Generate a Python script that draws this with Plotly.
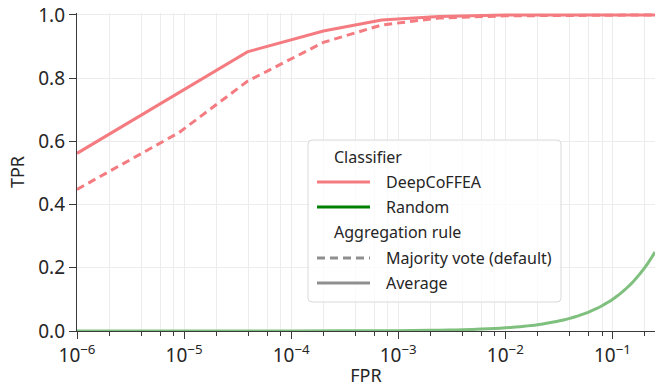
import plotly.graph_objects as go

# ROC curves for DeepCoFFEA under two window-aggregation rules
avg_fpr = [1e-6, 3.9e-5, 2.0e-4, 7.0e-4, 2.4e-3, 1.0e-2, 0.25]
avg_tpr = [0.562, 0.883, 0.949, 0.984, 0.995, 1.0, 1.0]

vote_fpr = [1e-6, 9.0e-6, 3.9e-5, 2.0e-4, 7.0e-4, 2.4e-3, 1.0e-2, 6.0e-2, 0.25]
vote_tpr = [0.448, 0.628, 0.790, 0.913, 0.968, 0.990, 0.997, 1.0, 1.0]

# Random-guess baseline (TPR equals FPR)
rand_fpr = [1e-6, 1e-5, 1e-4, 1e-3, 2e-3, 3e-3, 0.004, 0.006, 0.008, 0.01, 0.0125, 0.015,
            0.0175, 0.02, 0.025, 0.03, 0.035, 0.04, 0.045, 0.05, 0.055, 0.06, 0.07, 0.08,
            0.09, 0.1, 0.11, 0.12, 0.13, 0.14, 0.15, 0.16, 0.17, 0.18, 0.19, 0.2, 0.21,
            0.22, 0.23, 0.24, 0.25]
rand_tpr = [1e-6, 1e-5, 1e-4, 1e-3, 2e-3, 3e-3, 0.004, 0.006, 0.008, 0.01, 0.0125, 0.015,
            0.0175, 0.02, 0.025, 0.03, 0.035, 0.04, 0.045, 0.05, 0.055, 0.06, 0.07, 0.08,
            0.09, 0.1, 0.11, 0.12, 0.13, 0.14, 0.15, 0.16, 0.17, 0.18, 0.19, 0.2, 0.21,
            0.22, 0.23, 0.24, 0.25]

major_ticks = [1e-6, 1e-5, 1e-4, 1e-3, 1e-2, 1e-1]
major_labels = ["10<sup>−6</sup>", "10<sup>−5</sup>", "10<sup>−4</sup>",
                "10<sup>−3</sup>", "10<sup>−2</sup>", "10<sup>−1</sup>"]
minor_ticks = [m * d for d in [1e-6, 1e-5, 1e-4, 1e-3, 1e-2, 1e-1] for m in (2, 4, 6, 8)]
y_ticks = [0.0, 0.2, 0.4, 0.6, 0.8, 1.0]

RED = "#f47b80"
GREEN_FADED = "#7fc07f"
GREEN = "#008000"
GRAY = "#8f8f8f"
TEXT = "#262626"
AXIS = "#3a3a3a"
GRID = "#ececec"
FONT = "Noto Sans"

fig = go.Figure()
fig.add_trace(go.Scatter(x=rand_fpr, y=rand_tpr, mode="lines",
                         line=dict(color=GREEN_FADED, width=3, shape="spline", smoothing=0.6),
                         showlegend=False))
fig.add_trace(go.Scatter(x=vote_fpr, y=vote_tpr, mode="lines",
                         line=dict(color=RED, width=3, dash="8px,5px"), showlegend=False))
fig.add_trace(go.Scatter(x=avg_fpr, y=avg_tpr, mode="lines",
                         line=dict(color=RED, width=3), showlegend=False))

fig.update_xaxes(
    type="log", range=[-6, -0.602], automargin=False,
    tickmode="array", tickvals=major_ticks, ticktext=major_labels,
    ticks="outside", ticklen=7, tickwidth=1.3, tickcolor=AXIS,
    showline=True, linecolor=AXIS, linewidth=1.3,
    showgrid=True, gridcolor=GRID, gridwidth=1,
    minor=dict(tickmode="array", tickvals=minor_ticks, ticks="outside", ticklen=4,
               tickwidth=1, tickcolor=AXIS, showgrid=True, gridcolor=GRID, gridwidth=1),
    tickfont=dict(size=19, color=TEXT, family=FONT),
    title=dict(text="FPR", font=dict(size=18, color=TEXT, family=FONT), standoff=4),
    zeroline=False,
)
fig.update_yaxes(
    range=[0, 1.006], automargin=False, tickmode="array", tickvals=y_ticks,
    ticktext=[f"{v:.1f}" for v in y_ticks],
    ticks="outside", ticklen=7, tickwidth=1.3, tickcolor=AXIS,
    showline=True, linecolor=AXIS, linewidth=1.3,
    showgrid=True, gridcolor=GRID, gridwidth=1,
    tickfont=dict(size=19, color=TEXT, family=FONT),
    title=dict(text="TPR", font=dict(size=18, color=TEXT, family=FONT), standoff=8),
    zeroline=False,
)

# Legend box drawn in pixel-based paper coordinates
W, H = 662, 387
L, R, T, B = 77, 7, 13, 56
pw, ph = W - L - R, H - T - B


def px(x):
    return (x - L) / pw


def py(y):
    return (H - B - y) / ph


bx0, bx1, by0, by1 = 308, 561, 140, 302
r = 4
path = (f"M {px(bx0 + r)},{py(by0)} L {px(bx1 - r)},{py(by0)} "
        f"Q {px(bx1)},{py(by0)} {px(bx1)},{py(by0 + r)} "
        f"L {px(bx1)},{py(by1 - r)} Q {px(bx1)},{py(by1)} {px(bx1 - r)},{py(by1)} "
        f"L {px(bx0 + r)},{py(by1)} Q {px(bx0)},{py(by1)} {px(bx0)},{py(by1 - r)} "
        f"L {px(bx0)},{py(by0 + r)} Q {px(bx0)},{py(by0)} {px(bx0 + r)},{py(by0)} Z")
shapes = [dict(type="path", xref="paper", yref="paper", path=path,
               fillcolor="rgba(255,255,255,0.8)", line=dict(color="#d9d9d9", width=1))]
annotations = []

legend_rows = [
    ("Classifier", None, None, 157),
    ("DeepCoFFEA", RED, "solid", 182),
    ("Random", GREEN, "solid", 207),
    ("Aggregation rule", None, None, 232),
    ("Majority vote (default)", GRAY, "8px,5px", 258),
    ("Average", GRAY, "solid", 283),
]
for label, color, dash, yc in legend_rows:
    if color is None:
        xt = 332
    else:
        xt = 384
        shapes.append(dict(type="line", xref="paper", yref="paper",
                           x0=px(317), x1=px(370), y0=py(yc), y1=py(yc),
                           line=dict(color=color, width=3, dash=dash)))
    annotations.append(dict(text=label, xref="paper", yref="paper", x=px(xt), y=py(yc),
                            xanchor="left", yanchor="middle", showarrow=False,
                            font=dict(size=16, color=TEXT, family=FONT)))

fig.update_layout(
    width=W, height=H,
    margin=dict(l=L, r=R, t=T, b=B),
    plot_bgcolor="white", paper_bgcolor="white",
    shapes=shapes, annotations=annotations,
    font=dict(family=FONT, color=TEXT),
    showlegend=False,
)

fig.write_html("out.html")
